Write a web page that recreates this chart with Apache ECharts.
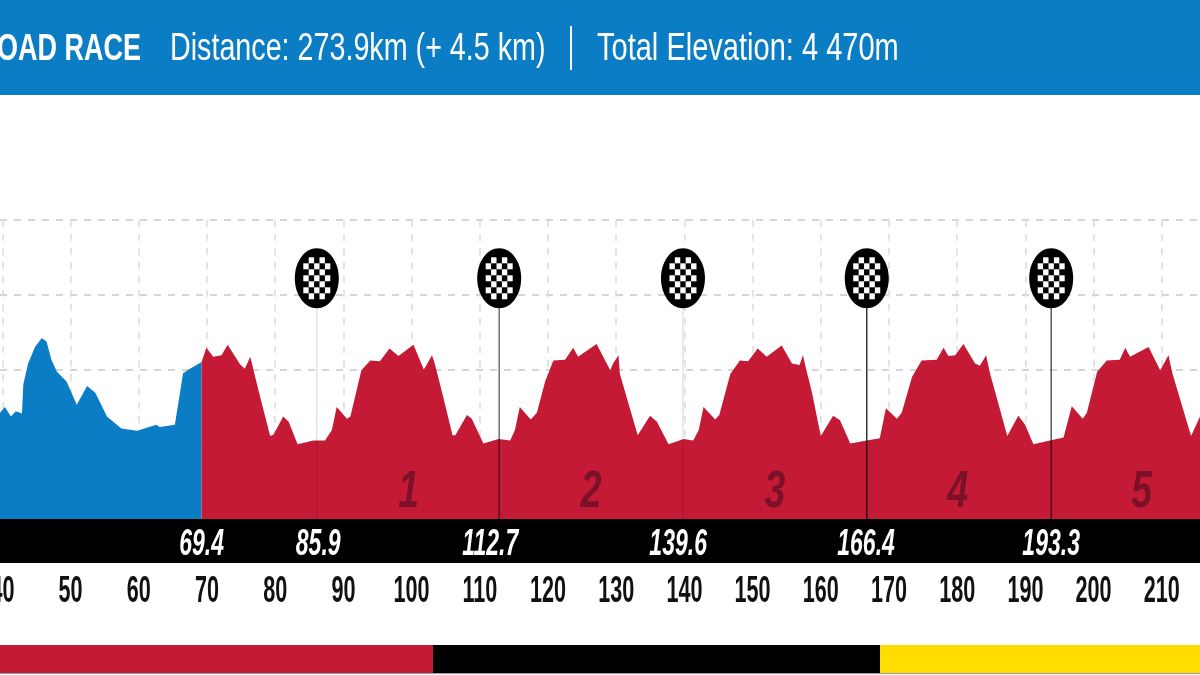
<!DOCTYPE html>
<html>
<head>
<meta charset="utf-8">
<script src="https://cdn.jsdelivr.net/npm/echarts@6/dist/echarts.min.js"></script>
<style>
html, body { margin: 0; padding: 0; background: #fff; }
#chart1 { width: 1200px; height: 675px; }
</style>
</head>
<body>
<div id="chart1"></div>
<script>
// profile: km, metres
const neutralKm = [40.0,40.7,41.6,42.3,43.2,43.4,44.1,45.1,46.1,46.8,47.5,48.3,49.7,51.2,52.7,53.9,55.6,57.7,60.0,62.8,63.3,65.5,66.7,67.7,69.4];
const neutralElev = [142,150,137,144,141,180,208,230,242,237,213,197,184,153,178,169,137,121,118,126,123,126,195,201,210];

const raceKm = [69.4,70.1,71.1,72.3,73.2,75.0,75.7,76.5,77.7,79.4,79.9,81.3,82.1,83.4,85.7,87.4,88.4,89.1,90.6,91.1,92.7,94.0,95.4,96.8,98.1,
  100.3,101.8,102.2,103.0,103.4,104.4,106.0,106.4,108.1,108.8,110.5,112.7,114.4,115.1,115.8,117.4,118.3,119.5,120.7,122.4,123.6,124.3,127.0,129.0,129.4,130.2,130.4,
  133.0,134.8,135.8,137.5,139.7,141.1,141.9,142.6,144.3,144.9,146.5,147.9,149.1,150.5,151.8,154.0,155.5,156.6,157.1,157.6,158.4,
  159.7,161.5,162.5,164.0,166.4,168.3,169.2,170.8,171.5,173.0,174.4,176.6,177.6,178.3,179.3,180.5,182.2,182.9,183.8,184.4,
  186.9,188.5,189.5,190.7,193.1,195.1,196.3,197.9,198.5,200.0,201.4,203.3,204.1,204.8,207.5,209.2,210.4,211.0,213.7,215.0];
const raceElev = [210,229,217,219,233,207,201,217,172,111,113,137,130,100,105,105,119,150,134,137,199,212,211,228,218,
  233,200,206,219,208,172,112,112,139,134,101,107,105,119,150,133,142,184,212,213,229,217,234,199,208,219,194,
  112,138,130,100,107,105,119,150,133,139,194,212,211,228,217,232,208,206,219,199,170,
  111,138,132,101,105,108,148,134,142,190,212,213,229,218,219,234,208,205,219,194,
  111,138,126,100,105,109,151,134,142,197,212,213,229,217,230,199,219,194,111,137];

const flagKm = [86.2,112.8,139.6,166.4,193.3];
const flagPoleOpacity = [0.12,0.6,0.12,0.85,0.7];
const markKm = [69.4,86.4,111.5,138.9,166.3,193.3];
const markLabels = ['69.4','85.9','112.7','139.6','166.4','193.3'];
const lapKm = [99.6,126.2,153.0,179.7,206.5];
const lapLabels = ['1','2','3','4','5'];
const tickKm = [40,50,60,70,80,90,100,110,120,130,140,150,160,170,180,190,200,210];
const tickLabels = ['40','50','60','70','80','90','100','110','120','130','140','150','160','170','180','190','200','210'];

const sans = '"Liberation Sans", sans-serif';

function pairs(xs, ys) {
	return xs.map((x, i) => [x, ys[i]]);
}

function drawFlag(params, api) {
	const km = api.value(0);
	const c = api.coord([km, 322]);
	const base = api.coord([km, 0]);
	const kids = [];
	kids.push({ type: 'line', shape: { x1: c[0], y1: c[1], x2: c[0], y2: base[1] },
		style: { stroke: '#111', lineWidth: 1.5, opacity: flagPoleOpacity[params.dataIndex] } });
	kids.push({ type: 'ellipse', shape: { cx: c[0], cy: c[1], rx: 22, ry: 30 }, style: { fill: '#000' } });
	for (let r = 0; r < 7; r++) {
		for (let k = 0; k < 5; k++) {
			if ((r + k) % 2 !== 1) continue;
			kids.push({ type: 'rect', shape: { x: c[0] - 13.5 + k * 5.4, y: c[1] - 21 + r * 6, width: 5.4, height: 6 }, style: { fill: '#fff' } });
		}
	}
	return { type: 'group', children: kids };
}

function drawMarkLabel(params, api) {
	const p = api.coord([api.value(0), 0]);
	return { type: 'text', x: p[0], y: p[1] + 26, scaleX: 0.64,
		style: { text: markLabels[params.dataIndex], fill: '#fff', font: 'italic bold 36px ' + sans, align: 'center', verticalAlign: 'middle' } };
}

function drawLap(params, api) {
	const p = api.coord([api.value(0), 35]);
	return { type: 'text', x: p[0], y: p[1], scaleX: 0.72,
		style: { text: lapLabels[params.dataIndex], fill: '#7a1128', font: 'italic bold 52px ' + sans, align: 'center', verticalAlign: 'middle' } };
}

function drawTick(params, api) {
	const p = api.coord([api.value(0), 0]);
	return { type: 'text', x: p[0], y: p[1] + 73, scaleX: 0.6,
		style: { text: tickLabels[params.dataIndex], fill: '#111', font: 'bold 36px ' + sans, align: 'center', verticalAlign: 'middle' } };
}

const echart1 = echarts.init(document.getElementById('chart1'));

const option = {
	animation: false,
	backgroundColor: '#fff',
	// the tick scale in the picture runs a little off the profile, so it gets its own grid
	grid: [
		{ left: 0, width: 1200, top: 220, height: 299, outerBoundsMode: 'none' },
		{ left: -65.8, width: 1295.8, top: 220, height: 299, outerBoundsMode: 'none' }
	],
	xAxis: [
		{ type: 'value', gridIndex: 0, min: 40, max: 215,
			axisLine: { show: false }, axisTick: { show: false }, axisLabel: { show: false }, splitLine: { show: false } },
		{ type: 'value', gridIndex: 1, min: 30, max: 220, interval: 10,
			axisLine: { show: false }, axisTick: { show: false }, axisLabel: { show: false },
			splitLine: { show: true, lineStyle: { color: '#dcdcdc', type: [7, 7], width: 1.5 } } }
	],
	yAxis: [
		{ type: 'value', gridIndex: 0, min: 0, max: 400, interval: 100,
			axisLine: { show: false }, axisTick: { show: false }, axisLabel: { show: false },
			splitLine: { show: true, lineStyle: { color: '#c8c8c8', type: [7, 7], width: 1.5 } } },
		{ type: 'value', gridIndex: 1, min: 0, max: 400, interval: 100,
			axisLine: { show: false }, axisTick: { show: false }, axisLabel: { show: false }, splitLine: { show: false } }
	],
	graphic: [
		{ type: 'rect', z: -10, shape: { x: 0, y: 0, width: 1200, height: 95 }, style: { fill: '#0a7dc5' } },
		{ type: 'rect', z: 4, shape: { x: 0, y: 519, width: 1200, height: 44 }, style: { fill: '#000' } },
		{ type: 'rect', z: -10, shape: { x: 0, y: 645, width: 433, height: 28 }, style: { fill: '#c41a35' } },
		{ type: 'rect', z: -10, shape: { x: 433, y: 645, width: 447, height: 28 }, style: { fill: '#000' } },
		{ type: 'rect', z: -10, shape: { x: 880, y: 645, width: 320, height: 28 }, style: { fill: '#ffdd00' } },
		{ type: 'rect', z: -10, shape: { x: 0, y: 673, width: 1200, height: 1 }, style: { fill: '#999' } },
		{ type: 'rect', z: 10, shape: { x: 570, y: 26, width: 2, height: 44 }, style: { fill: '#fff' } },
		{ type: 'text', z: 10, x: 141, y: 50, scaleX: 0.75, style: { text: 'ROAD RACE', fill: '#fff', font: 'bold 36px ' + sans, align: 'right', verticalAlign: 'middle' } },
		{ type: 'text', z: 10, x: 170, y: 50, scaleX: 0.755, style: { text: 'Distance: 273.9km (+ 4.5 km)', fill: '#fff', font: '38px ' + sans, align: 'left', verticalAlign: 'middle' } },
		{ type: 'text', z: 10, x: 597, y: 50, scaleX: 0.764, style: { text: 'Total Elevation: 4 470m', fill: '#fff', font: '38px ' + sans, align: 'left', verticalAlign: 'middle' } }
	],
	series: [
		{ name: 'neutral', type: 'line', data: pairs(neutralKm, neutralElev), showSymbol: false, lineStyle: { width: 0 }, itemStyle: { color: '#0a7dc5' }, areaStyle: { color: '#0a7dc5', opacity: 1 }, z: 3 },
		{ name: 'race', type: 'line', data: pairs(raceKm, raceElev), showSymbol: false, lineStyle: { width: 0 }, itemStyle: { color: '#c41a35' }, areaStyle: { color: '#c41a35', opacity: 1 }, z: 3 },
		{ name: 'flags', type: 'custom', data: flagKm.map(k => [k]), renderItem: drawFlag, encode: { x: 0 }, z: 5 },
		{ name: 'marks', type: 'custom', data: markKm.map(k => [k]), renderItem: drawMarkLabel, encode: { x: 0 }, z: 6 },
		{ name: 'laps', type: 'custom', data: lapKm.map(k => [k]), renderItem: drawLap, encode: { x: 0 }, z: 6 },
		{ name: 'ticks', type: 'custom', xAxisIndex: 1, yAxisIndex: 1, data: tickKm.map(k => [k]), renderItem: drawTick, encode: { x: 0 }, z: 6 }
	]
};

echart1.setOption(option);
</script>
</body>
</html>
